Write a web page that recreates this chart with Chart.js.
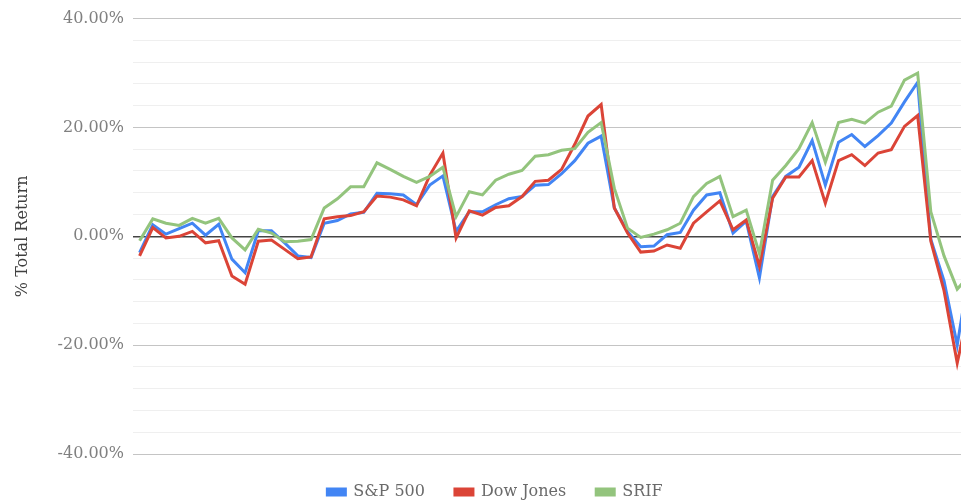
<!DOCTYPE html>
<html>
<head>
<meta charset="utf-8">
<script src="https://cdn.jsdelivr.net/npm/chart.js@4.4.1/dist/chart.umd.min.js"></script>
<style>
  html, body { margin: 0; padding: 0; background: #fff; }
  #wrap { width: 961px; height: 500px; overflow: hidden; }
  #chart { display: block; margin-left: 13px; }
</style>
</head>
<body>
<div id="wrap"><canvas id="chart" width="964" height="510"></canvas></div>
<script>
// Returns per period, in percent
const periods = Array.from({ length: 64 }, (_, i) => 'P' + (i + 1));

const sp500 = [
  -3.0, 2.1, 0.4, 1.4, 2.4, 0.2, 2.2, -4.2, -6.7, 1.0,
  1.0, -1.2, -3.6, -3.9, 2.4, 2.9, 4.1, 4.4, 7.9, 7.8,
  7.6, 5.8, 9.4, 11.1, 0.9, 4.5, 4.5, 5.8, 6.9, 7.3,
  9.4, 9.5, 11.5, 13.9, 17.1, 18.4, 5.2, 0.9, -1.9, -1.8,
  0.3, 0.7, 4.8, 7.6, 8.0, 0.6, 2.8, -7.6, 7.3, 11.0,
  12.7, 17.6, 9.4, 17.3, 18.7, 16.5, 18.5, 20.8, 24.7, 28.3,
  -0.6, -8.2, -20.0, -5.0
];
const dowJones = [
  -3.6, 1.6, -0.3, 0.0, 0.9, -1.2, -0.8, -7.3, -8.8, -0.9,
  -0.7, -2.4, -4.1, -3.8, 3.2, 3.6, 3.8, 4.5, 7.4, 7.2,
  6.7, 5.6, 11.2, 15.3, -0.3, 4.7, 3.9, 5.3, 5.6, 7.3,
  10.1, 10.3, 12.3, 16.9, 22.1, 24.2, 5.2, 0.6, -2.9, -2.7,
  -1.6, -2.2, 2.4, 4.5, 6.5, 1.2, 3.0, -5.5, 7.0, 10.9,
  10.9, 13.9, 6.1, 13.9, 15.0, 13.0, 15.3, 15.9, 20.2, 22.2,
  -0.9, -10.0, -23.3, -12.0
];
const srif = [
  -0.8, 3.2, 2.4, 2.0, 3.3, 2.4, 3.3, -0.3, -2.5, 1.3,
  0.6, -1.0, -0.9, -0.6, 5.2, 6.9, 9.1, 9.1, 13.5, 12.3,
  11.0, 9.9, 11.0, 12.7, 3.6, 8.2, 7.6, 10.3, 11.4, 12.1,
  14.7, 15.0, 15.8, 16.1, 19.1, 20.9, 8.8, 1.5, -0.2, 0.4,
  1.2, 2.4, 7.3, 9.7, 11.0, 3.6, 4.8, -3.2, 10.3, 13.0,
  16.1, 20.9, 13.6, 20.9, 21.5, 20.8, 22.8, 23.9, 28.7, 30.0,
  4.5, -3.6, -9.7, -7.0
];

const seriesNames = ['S&P 500', 'Dow Jones', 'SRIF'];
const seriesColors = ['#4285F4', '#DB4437', '#93C47D'];

const FONT = '"DejaVu Serif", Georgia, serif';

function gridColor(ctx) {
  const v = ctx.tick && ctx.tick.value;
  if (v === 0) return '#444444';
  if (v % 20 === 0) return '#c4c4c4';
  return '#efefef';
}

new Chart(document.getElementById('chart'), {
  type: 'line',
  data: {
    labels: periods,
    datasets: [sp500, dowJones, srif].map((vals, i) => ({
      label: seriesNames[i],
      data: vals,
      borderColor: seriesColors[i],
      backgroundColor: seriesColors[i],
      borderWidth: 3,
      pointRadius: 0,
      tension: 0,
      order: 3 - i
    }))
  },
  options: {
    responsive: false,
    devicePixelRatio: 1,
    animation: false,
    layout: { padding: { top: 16, right: 0, left: 0, bottom: 0 } },
    plugins: {
      tooltip: { enabled: false },
      legend: {
        position: 'bottom',
        labels: {
          font: { family: FONT, size: 16 },
          color: '#6a6a6a',
          boxWidth: 18,
          boxHeight: 6,
          padding: 30,
          sort: (a, b) => a.datasetIndex - b.datasetIndex
        }
      }
    },
    scales: {
      x: {
        display: false,
        offset: true
      },
      y: {
        min: -40,
        max: 40,
        border: { display: false },
        grid: { color: gridColor, drawTicks: false, lineWidth: c => (c.tick && c.tick.value === 0 ? 1.5 : 1) },
        ticks: {
          stepSize: 4,
          autoSkip: false,
          padding: 9,
          color: '#808080',
          font: { family: FONT, size: 16 },
          callback: v => (v % 20 === 0 ? v.toFixed(2) + '%' : '')
        },
        title: {
          display: true,
          text: '% Total Return',
          color: '#404040',
          font: { family: FONT, size: 16 },
          padding: { top: 0, bottom: 0 }
        },
        afterFit: scale => { scale.width = 120; }
      }
    }
  }
});
</script>
</body>
</html>
